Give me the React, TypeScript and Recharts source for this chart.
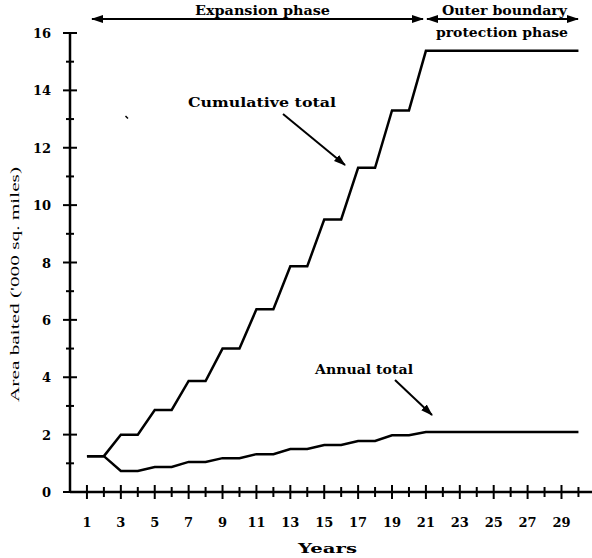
import React from 'react';
import { LineChart, Line, XAxis, YAxis } from 'recharts';

const years = [1, 2, 3, 4, 5, 6, 7, 8, 9, 10, 11, 12, 13, 14, 15, 16, 17, 18, 19, 20, 21, 22, 23, 24, 25, 26, 27, 28, 29, 30];
const cumulative = [1.25, 1.25, 2.0, 2.0, 2.86, 2.86, 3.87, 3.87, 5.0, 5.0, 6.37, 6.37, 7.87, 7.87, 9.5, 9.5, 11.3, 11.3, 13.3, 13.3, 15.38, 15.38, 15.38, 15.38, 15.38, 15.38, 15.38, 15.38, 15.38, 15.38];
const annual = [1.25, 1.25, 0.73, 0.73, 0.87, 0.87, 1.05, 1.05, 1.18, 1.18, 1.32, 1.32, 1.5, 1.5, 1.64, 1.64, 1.78, 1.78, 1.98, 1.98, 2.09, 2.09, 2.09, 2.09, 2.09, 2.09, 2.09, 2.09, 2.09, 2.09];
const yTicks = [0, 1, 2, 3, 4, 5, 6, 7, 8, 9, 10, 11, 12, 13, 14, 15, 16];

const data = years.map((y, i) => ({ year: y, cumulative: cumulative[i], annual: annual[i] }));

const SERIF = "'DejaVu Serif', 'Liberation Serif', 'Times New Roman', Tinos, 'Noto Serif', Times, serif";

const XTick = ({ x, y, payload }: any) => {
  const v = payload.value;
  const major = v % 2 === 1;
  const h = major ? 7 : 5;
  return (
    <g>
      <line x1={x} x2={x} y1={y - h} y2={y + h} stroke="#000" strokeWidth={2} />
      {major && (
        <text x={x} y={y + 35} textAnchor="middle" fontFamily={SERIF} fontWeight={700} fontSize={13} fill="#000">
          {v}
        </text>
      )}
    </g>
  );
};

const YTick = ({ x, y, payload }: any) => {
  const v = payload.value;
  const major = v % 2 === 0;
  const w = major ? 7 : 4;
  return (
    <g>
      <line x1={x - w} x2={x + w} y1={y} y2={y} stroke="#000" strokeWidth={2} />
      {major && (
        <text x={x - 19} y={y + 5} textAnchor="end" fontFamily={SERIF} fontWeight={700} fontSize={13} fill="#000">
          {v}
        </text>
      )}
    </g>
  );
};

const Note = ({ x, y, w, children }: any) => (
  <text x={x} y={y} textLength={w} lengthAdjust="spacingAndGlyphs" fontFamily={SERIF} fontWeight={700} fontSize={12} fill="#000">
    {children}
  </text>
);

export default function App() {
  return (
    <div style={{ position: 'absolute', left: 0, top: 0, width: 592, height: 558, background: '#fff' }}>
      <LineChart width={592} height={558} data={data} margin={{ top: 33, right: 0, bottom: 36, left: 10 }}>
        <XAxis
          dataKey="year" type="number" domain={[0, 30.8]} ticks={years} interval={0}
          height={30} tickSize={0} tickMargin={0} tickLine={false}
          axisLine={{ stroke: '#000', strokeWidth: 2.5 }} tick={<XTick />}
        />
        <YAxis
          type="number" domain={[0, 16]} ticks={yTicks} interval={0}
          width={60} tickSize={0} tickMargin={0} tickLine={false}
          axisLine={{ stroke: '#000', strokeWidth: 2.5 }} tick={<YTick />}
        />
        <Line type="linear" dataKey="cumulative" stroke="#000" strokeWidth={2.5} dot={false} isAnimationActive={false} />
        <Line type="linear" dataKey="annual" stroke="#000" strokeWidth={2.5} dot={false} isAnimationActive={false} />
      </LineChart>

      {/* annotations */}
      <svg width={592} height={558} style={{ position: 'absolute', left: 0, top: 0, pointerEvents: 'none' }}>
        <defs>
          <marker id="ah" markerWidth={12} markerHeight={8} refX={11} refY={4} orient="auto-start-reverse" markerUnits="userSpaceOnUse">
            <path d="M0,0 L12,4 L0,8 z" fill="#000" />
          </marker>
        </defs>
        <line x1={92} y1={19} x2={423} y2={19} stroke="#000" strokeWidth={2} markerStart="url(#ah)" markerEnd="url(#ah)" />
        <line x1={427} y1={19} x2={578} y2={19} stroke="#000" strokeWidth={2} markerStart="url(#ah)" markerEnd="url(#ah)" />
        <Note x={195} y={15} w={135}>Expansion phase</Note>
        <Note x={442} y={15} w={125}>Outer boundary</Note>
        <Note x={436} y={37} w={132}>protection phase</Note>
        <Note x={188} y={107} w={148}>Cumulative total</Note>
        <line x1={283} y1={114} x2={345} y2={165} stroke="#000" strokeWidth={2} markerEnd="url(#ah)" />
        <Note x={315} y={374} w={98}>Annual total</Note>
        <line x1={395} y1={380} x2={432} y2={415} stroke="#000" strokeWidth={2} markerEnd="url(#ah)" />
        <line x1={125.5} y1={116} x2={128} y2={118.5} stroke="#000" strokeWidth={1.5} />
        <Note x={298} y={553} w={59}>Years</Note>
        <text
          x={15} y={284.5} dy={4} textAnchor="middle" transform="rotate(-90 15 284.5)"
          textLength={235} lengthAdjust="spacingAndGlyphs"
          fontFamily="'Liberation Serif', 'Times New Roman', Tinos, 'DejaVu Serif', serif" fontSize={13} fill="#000"
        >
          Area baited ('000 sq. miles)
        </text>
      </svg>
    </div>
  );
}
